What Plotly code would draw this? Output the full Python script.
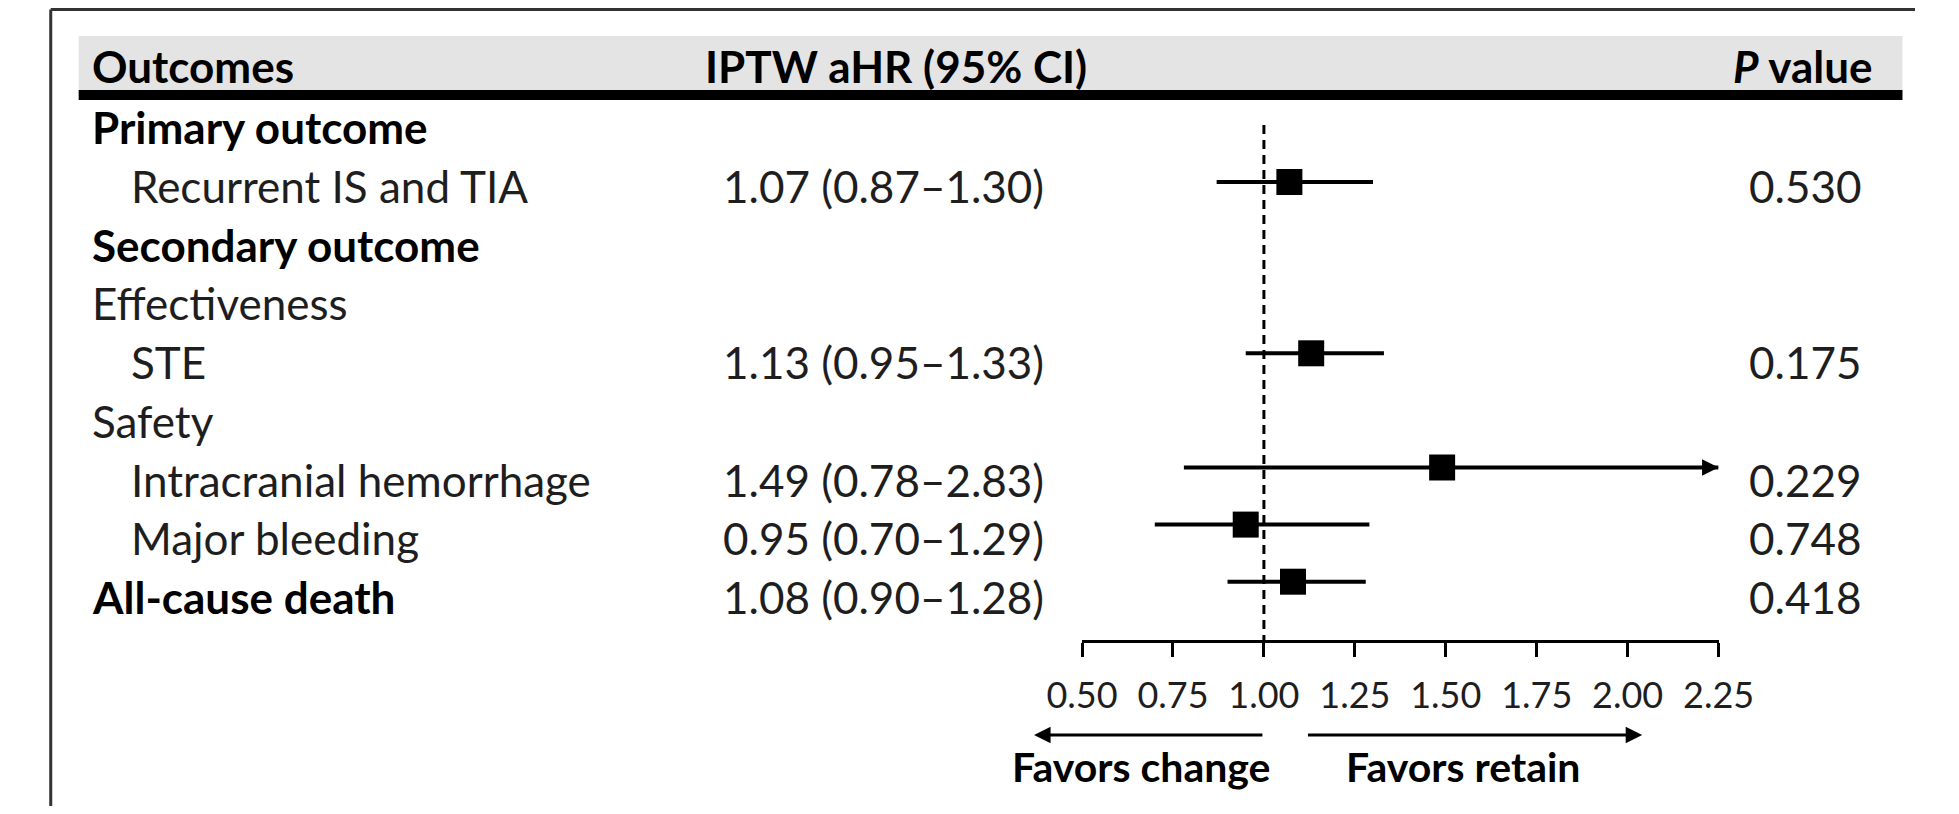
import plotly.graph_objects as go

# ---------------- data ----------------
labels = ["Primary outcome", "Recurrent IS and TIA", "Secondary outcome", "Effectiveness",
          "STE", "Safety", "Intracranial hemorrhage", "Major bleeding", "All-cause death"]
is_bold = [True, False, True, False, False, False, False, False, True]
is_indented = [False, True, False, False, True, False, True, True, False]
hr = [None, 1.07, None, None, 1.13, None, 1.49, 0.95, 1.08]
ci_low = [None, 0.87, None, None, 0.95, None, 0.78, 0.70, 0.90]
ci_high = [None, 1.30, None, None, 1.33, None, 2.83, 1.29, 1.28]
p_values = ["", "0.530", "", "", "0.175", "", "0.229", "0.748", "0.418"]
x_ticks = [0.50, 0.75, 1.00, 1.25, 1.50, 1.75, 2.00, 2.25]
x_min, x_max = 0.50, 2.25
reference_value = 1.00
headers = ["Outcomes", "IPTW aHR (95% CI)", "<i>P</i> value"]
favors_left, favors_right = "Favors change", "Favors retain"

# ---------------- layout constants (page pixels) ----------------
PW, PH = 1959, 814
OFF = 8                          # default page body margin
W, H = PW - 2 * OFF, PH - 2 * OFF
AX_L, AX_R = 1086, 1747          # x-axis pixel span (page)
AX_Y = 640                       # x-axis line pixel row (page)
MARK0, MARK_STEP = 124.9, 57.1   # marker row positions (page)
TEXT0, TEXT_STEP = 127.0, 58.75  # text row positions (page)
FONT = "Lato, 'Open Sans', sans-serif"
TXT = "#1e1e1e"
FS = 44


def py(px):  # page pixel row -> paper y
    return 1 - (px - OFF) / H


def pxx(px):  # page pixel col -> paper x
    return (px - OFF) / W


r_top = (OFF - MARK0) / MARK_STEP
r_bot = (AX_Y - MARK0) / MARK_STEP

fig = go.Figure()

# reference dashed line
fig.add_trace(go.Scatter(x=[reference_value, reference_value], y=[0, r_bot], mode="lines",
                         line=dict(color="black", width=3, dash="9px,6px"),
                         hoverinfo="skip", showlegend=False, cliponaxis=False))

# CI lines
cx, cy = [], []
for i, (lo, hi) in enumerate(zip(ci_low, ci_high)):
    if lo is None:
        continue
    cx += [max(lo, x_min), min(hi, x_max), None]
    cy += [i, i, None]
fig.add_trace(go.Scatter(x=cx, y=cy, mode="lines", line=dict(color="black", width=4),
                         hoverinfo="skip", showlegend=False, cliponaxis=False))

# point estimates
mx = [v for v in hr if v is not None]
my = [i for i, v in enumerate(hr) if v is not None]
fig.add_trace(go.Scatter(x=mx, y=my, mode="markers",
                         marker=dict(symbol="square", size=26, color="black"),
                         showlegend=False, cliponaxis=False))

annotations = []
# arrowheads for truncated CIs
for i, hi in enumerate(ci_high):
    if hi is not None and hi > x_max:
        annotations.append(dict(x=x_max, y=i, xref="x", yref="y", ax=x_max - 0.1, ay=i,
                                axref="x", ayref="y", text="", showarrow=True,
                                arrowhead=2, arrowsize=1.1, arrowwidth=3, arrowcolor="black"))

# headers
header_x = [56, 692, 1760]
for hx, htxt in zip(header_x, headers):
    annotations.append(dict(x=pxx(hx), y=py(66), xref="paper", yref="paper", text=f"<b>{htxt}</b>",
                            showarrow=False, xanchor="left", yanchor="middle",
                            font=dict(family=FONT, size=FS, color="black")))

# rows
for i, lab in enumerate(labels):
    ty = py(TEXT0 + TEXT_STEP * i)
    t = f"<b>{lab}</b>" if is_bold[i] else lab
    annotations.append(dict(x=pxx(96 if is_indented[i] else 56), y=ty, xref="paper", yref="paper",
                            text=t, showarrow=False, xanchor="left", yanchor="middle",
                            font=dict(family=FONT, size=FS, color="black" if is_bold[i] else TXT)))
    if hr[i] is not None:
        annotations.append(dict(x=pxx(711), y=ty, xref="paper", yref="paper",
                                text=f"{hr[i]:.2f} ({ci_low[i]:.2f}\u2013{ci_high[i]:.2f})",
                                showarrow=False, xanchor="left", yanchor="middle",
                                font=dict(family=FONT, size=FS, color=TXT)))
    if p_values[i]:
        annotations.append(dict(x=pxx(1777), y=ty, xref="paper", yref="paper", text=p_values[i],
                                showarrow=False, xanchor="left", yanchor="middle",
                                font=dict(family=FONT, size=FS, color=TXT)))

# favors arrows and labels
annotations.append(dict(x=0.368, y=py(735), xref="x", yref="paper", ax=reference_value, ay=0,
                        axref="x", ayref="pixel", text="", showarrow=True, arrowhead=2,
                        arrowsize=1.1, arrowwidth=3, arrowcolor="black"))
annotations.append(dict(x=2.04, y=py(735), xref="x", yref="paper", ax=1.117, ay=0,
                        axref="x", ayref="pixel", text="", showarrow=True, arrowhead=2,
                        arrowsize=1.1, arrowwidth=3, arrowcolor="black"))
annotations.append(dict(x=0.664, y=py(766), xref="x", yref="paper", text=f"<b>{favors_left}</b>",
                        showarrow=False, xanchor="center", yanchor="middle",
                        font=dict(family=FONT, size=41, color="black")))
annotations.append(dict(x=1.548, y=py(766), xref="x", yref="paper", text=f"<b>{favors_right}</b>",
                        showarrow=False, xanchor="center", yanchor="middle",
                        font=dict(family=FONT, size=41, color="black")))

shapes = [
    dict(type="rect", xref="paper", yref="paper", x0=pxx(44), x1=pxx(1938), y0=py(90), y1=py(36),
         fillcolor="#e4e4e4", line=dict(width=0), layer="below"),
    dict(type="rect", xref="paper", yref="paper", x0=pxx(44), x1=pxx(1938), y0=py(100), y1=py(90),
         fillcolor="black", line=dict(width=0)),
    dict(type="line", xref="paper", yref="paper", x0=pxx(15), x1=1, y0=1 - 1.5 / H, y1=1 - 1.5 / H,
         line=dict(color="#333333", width=3)),
    dict(type="line", xref="paper", yref="paper", x0=pxx(15), x1=pxx(15), y0=1 - 1.5 / H, y1=0,
         line=dict(color="#333333", width=3)),
]

fig.update_layout(
    width=W, height=H, margin=dict(l=0, r=0, t=0, b=0),
    paper_bgcolor="white", plot_bgcolor="rgba(0,0,0,0)",
    showlegend=False, annotations=annotations, shapes=shapes,
    xaxis=dict(domain=[pxx(AX_L), pxx(AX_R)], range=[x_min, x_max], tickvals=x_ticks,
               ticktext=[f"{v:.2f}" for v in x_ticks], showgrid=False, zeroline=False,
               showline=True, linecolor="black", linewidth=3, ticks="outside", ticklen=14,
               tickwidth=3, tickcolor="black", ticklabelstandoff=8,
               tickfont=dict(family=FONT, size=36, color=TXT), fixedrange=True),
    yaxis=dict(domain=[py(AX_Y), 1], range=[r_bot, r_top], visible=False,
               showgrid=False, zeroline=False, fixedrange=True),
)

fig.write_html("out.html")
